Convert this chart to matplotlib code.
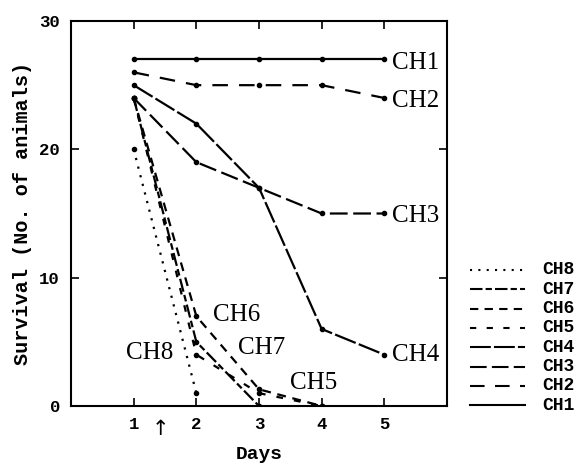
import numpy as np
import matplotlib
matplotlib.use("Agg")
import matplotlib.pyplot as plt
from matplotlib.lines import Line2D

days = [1, 2, 3, 4, 5]
nan = np.nan
ch1 = [27, 27, 27, 27, 27]
ch2 = [26, 25, 25, 25, 24]
ch3 = [24, 19, 17, 15, 15]
ch4 = [25, 22, 17, 6, 4]
ch5 = [24, 4, 1, 0, nan]
ch6 = [24, 7, 1.3, 0, nan]
ch7 = [24, 5, 0, nan, nan]
ch8 = [20, 1, nan, nan, nan]
series_names = ["CH1", "CH2", "CH3", "CH4", "CH5", "CH6", "CH7", "CH8"]
series_vals = [ch1, ch2, ch3, ch4, ch5, ch6, ch7, ch8]
yticks = [0, 10, 20, 30]

styles = {
    "CH1": "-",
    "CH2": (0, (7, 5)),
    "CH3": (0, (8, 2.5)),
    "CH4": (0, (10, 1.5)),
    "CH5": (0, (3, 5)),
    "CH6": (0, (4, 3)),
    "CH7": (0, (6, 1.5, 3, 1.5)),
    "CH8": (0, (1, 3)),
}

label_pos = {
    "CH1": (5.13, 26.7), "CH2": (5.13, 23.8), "CH3": (5.13, 14.8), "CH4": (5.13, 4.0),
    "CH5": (3.49, 1.8), "CH6": (2.27, 7.1), "CH7": (2.67, 4.5), "CH8": (0.87, 4.1),
}

mono = "Liberation Mono"
serif = "Liberation Serif"

fig = plt.figure(figsize=(5.81, 4.66), dpi=100)
ax = fig.add_axes([71/581, 60/466, (447-71)/581, (406-21)/466])

for name, vals in zip(series_names, series_vals):
    ax.plot(days, vals, color="black", lw=1.6, linestyle=styles[name],
            marker="o", markersize=3, dash_capstyle="butt")
    ax.text(*label_pos[name], name, fontfamily=serif, fontsize=18,
            ha="left", va="center")

ax.set_xlim(0, 6)
ax.set_ylim(0, 30)
ax.set_xticks(days)
ax.set_yticks(yticks)
ax.tick_params(direction="in", length=6, width=1.2, top=True, right=True,
               labeltop=False, labelright=False, pad=8)
for lab in ax.get_xticklabels() + ax.get_yticklabels():
    lab.set_fontfamily(mono)
    lab.set_fontweight("bold")
    lab.set_fontsize(12.5)
for s in ax.spines.values():
    s.set_linewidth(1.5)

ax.set_xlabel("Days", fontfamily=mono, fontweight="bold", fontsize=14, labelpad=10)
ax.set_ylabel("Survival (No. of animals)", fontfamily=mono, fontweight="bold",
              fontsize=14.5, labelpad=5)

ax.text(1.43, -1.8, "\u2191", fontfamily="DejaVu Sans", fontsize=15,
        ha="center", va="center", clip_on=False)

# legend on the right
leg_order = ["CH8", "CH7", "CH6", "CH5", "CH4", "CH3", "CH2", "CH1"]
y0 = 270
for i, name in enumerate(leg_order):
    py = y0 + i * 19.3
    yf = 1 - py / 466
    fig.add_artist(Line2D([470/581, 525/581], [yf, yf], color="black", lw=1.5,
                          linestyle=styles[name], transform=fig.transFigure))
    fig.text(542/581, yf, name, fontfamily=mono, fontweight="bold", fontsize=13,
             ha="left", va="center")

fig.savefig("out.png", dpi=100)
